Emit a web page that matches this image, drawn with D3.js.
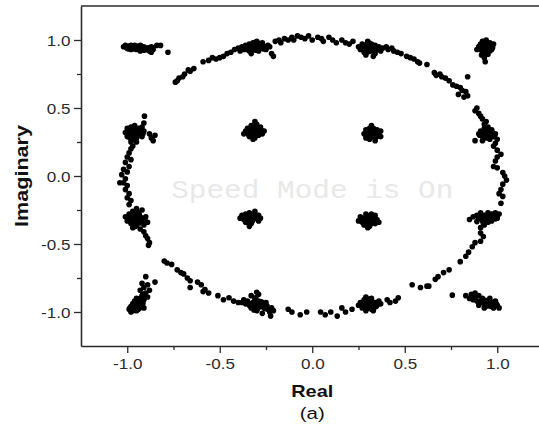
<!DOCTYPE html>
<html>
<head>
<meta charset="utf-8">
<script src="https://cdn.jsdelivr.net/npm/d3@7"></script>
<style>
  body { margin: 0; background: #fff; }
  svg { display: block; }
</style>
</head>
<body>
<div id="chart"></div>
<script>
// Tick values
var majorTicks = [-1.0, -0.5, 0.0, 0.5, 1.0];
var minorTicks = [-0.75, -0.25, 0.25, 0.75];

// Constellation points [real, imaginary], grouped by region
var clusterTL = [[-1.02,0.95],[-1.01,0.96],[-1.00,0.94],[-0.99,0.95],[-0.98,0.93],[-0.98,0.96],[-0.97,0.95],[-0.96,0.94],
  [-0.96,0.96],[-0.95,0.93],[-0.95,0.95],[-0.94,0.94],[-0.93,0.96],[-0.93,0.92],[-0.92,0.94],[-0.91,0.95],[-0.90,0.93],
  [-0.89,0.94],[-0.88,0.92],[-0.87,0.95],[-0.86,0.93],[-0.87,0.91],[-0.84,0.96],[-0.82,0.96],[-0.78,0.91],[-0.985,0.94],
  [-0.94,0.955],[-0.91,0.925],
  [-1.005,0.945],[-0.995,0.935],[-0.99,0.955],[-0.975,0.945],[-0.965,0.935],[-0.965,0.955],[-0.955,0.945],[-0.945,0.935],
  [-0.935,0.945],[-0.925,0.955],[-0.925,0.935],[-0.915,0.945],[-0.905,0.94],[-0.895,0.93],[-0.885,0.94],[-0.875,0.93],
  [-0.865,0.945]];

var ringTopLeft = [[-0.44,0.91],[-0.46,0.90],[-0.48,0.88],[-0.50,0.87],[-0.52,0.86],[-0.54,0.87],[-0.56,0.85],[-0.59,0.84],
  [-0.64,0.79],[-0.66,0.77],[-0.67,0.78],[-0.69,0.75],[-0.70,0.73],[-0.72,0.72],[-0.73,0.70],[-0.74,0.69]];

var clusterTopA = [[-0.42,0.93],[-0.40,0.94],[-0.39,0.92],[-0.38,0.95],[-0.37,0.93],[-0.36,0.96],[-0.35,0.94],[-0.34,0.97],
  [-0.34,0.92],[-0.33,0.95],[-0.32,0.98],[-0.32,0.93],[-0.31,0.96],[-0.30,0.94],[-0.30,0.99],[-0.29,0.92],[-0.28,0.96],
  [-0.27,0.94],[-0.27,0.98],[-0.26,0.95],[-0.25,0.93],[-0.24,0.96],[-0.23,0.95],[-0.22,0.90],[-0.21,0.88],[-0.33,0.90],
  [-0.29,0.975],[-0.355,0.95],
  [-0.375,0.94],[-0.365,0.95],[-0.355,0.93],[-0.345,0.955],[-0.335,0.94],[-0.325,0.965],[-0.315,0.945],[-0.305,0.925],
  [-0.295,0.955],[-0.285,0.94],[-0.275,0.96],[-0.265,0.935],[-0.315,0.98],[-0.345,0.935]];

var ringTop = [[-0.20,0.99],[-0.18,1.00],[-0.17,0.98],[-0.15,1.01],[-0.13,1.00],[-0.11,1.02],[-0.10,1.00],[-0.08,1.03],
  [-0.06,1.02],[-0.04,1.01],[-0.02,1.03],[0.00,1.00],[0.03,1.02],[0.05,1.01],[0.06,0.99],[0.09,1.02],[0.11,1.00],
  [0.13,0.98],[0.16,1.00],[0.18,0.98],[0.20,0.97],[0.22,0.99]];

var clusterTopB = [[0.25,0.95],[0.26,0.93],[0.27,0.97],[0.28,0.94],[0.28,0.91],[0.29,0.96],[0.30,0.93],[0.30,0.99],
  [0.31,0.95],[0.32,0.92],[0.32,0.97],[0.33,0.94],[0.34,0.96],[0.34,0.90],[0.35,0.93],[0.36,0.95],[0.37,0.92],
  [0.38,0.94],[0.29,0.89],[0.33,0.88],[0.31,0.975],[0.27,0.95],
  [0.275,0.94],[0.285,0.955],[0.295,0.935],[0.305,0.95],[0.305,0.915],[0.315,0.965],[0.325,0.945],[0.335,0.925],
  [0.345,0.945],[0.355,0.94],[0.295,0.97],[0.315,0.93]];

var ringTopRight = [[0.40,0.95],[0.41,0.93],[0.43,0.94],[0.44,0.92],[0.46,0.91],[0.48,0.90],[0.51,0.88],[0.53,0.87],
  [0.55,0.86],[0.57,0.84],[0.58,0.83],[0.62,0.82],[0.66,0.76],[0.67,0.74],[0.69,0.75],[0.70,0.73],[0.72,0.72],
  [0.74,0.70],[0.76,0.67],[0.78,0.66],[0.80,0.65],[0.81,0.63],[0.79,0.60],[0.83,0.62],[0.84,0.59],[0.82,0.58],[0.84,0.73]];

var clusterTR = [[0.90,0.95],[0.91,0.97],[0.91,0.93],[0.92,0.99],[0.92,0.95],[0.93,0.91],[0.93,0.97],[0.94,0.94],
  [0.94,1.00],[0.95,0.96],[0.95,0.92],[0.96,0.98],[0.96,0.94],[0.97,0.96],[0.97,0.93],[0.98,0.97],[0.915,0.89],
  [0.93,0.87],[0.935,0.84],[0.95,0.895],[0.89,0.93],
  [0.905,0.955],[0.915,0.94],[0.925,0.965],[0.925,0.925],[0.935,0.95],[0.945,0.975],[0.945,0.93],[0.955,0.945],
  [0.965,0.96],[0.96,0.92],[0.935,0.99],[0.975,0.945],[0.92,0.905],[0.94,0.905]];

var clusterRightA = [[0.88,0.48],[0.89,0.50],[0.90,0.46],[0.91,0.44],[0.92,0.42],[0.94,0.40],[0.93,0.38],
  [0.90,0.31],[0.91,0.33],[0.92,0.29],[0.93,0.35],[0.93,0.31],[0.94,0.33],[0.94,0.28],[0.95,0.30],[0.95,0.36],
  [0.96,0.32],[0.96,0.27],[0.97,0.30],[0.97,0.34],[0.98,0.29],[0.99,0.31],[1.00,0.27],[0.88,0.26],[0.92,0.26],[0.99,0.24],
  [0.905,0.30],[0.915,0.31],[0.925,0.32],[0.935,0.30],[0.945,0.315],[0.955,0.325],[0.955,0.29],[0.965,0.305],
  [0.975,0.32],[0.985,0.30],[0.935,0.34],[0.945,0.285]];

var ringRight = [[0.98,0.22],[1.00,0.19],[1.00,0.14],[1.02,0.16],[0.99,0.11],[0.98,0.07],[1.00,0.06],[1.03,0.025],
  [1.04,0.0],[1.05,-0.03],[1.03,-0.06],[1.02,-0.10],[1.01,-0.13],[1.03,-0.15],[1.02,-0.20]];

var clusterRightB = [[0.87,-0.30],[0.89,-0.29],[0.90,-0.31],[0.91,-0.27],[0.92,-0.33],[0.93,-0.29],[0.94,-0.31],
  [0.95,-0.27],[0.95,-0.34],[0.96,-0.30],[0.97,-0.28],[0.97,-0.33],[0.98,-0.30],[0.99,-0.27],[1.00,-0.31],
  [1.01,-0.28],[0.93,-0.36],[0.91,-0.38],[0.85,-0.32],[0.89,-0.335],
  [0.905,-0.295],[0.915,-0.315],[0.925,-0.30],[0.935,-0.32],[0.945,-0.295],[0.955,-0.31],[0.965,-0.29],[0.965,-0.32],
  [0.975,-0.305],[0.985,-0.29],[0.99,-0.315],[0.945,-0.335],[0.925,-0.345]];

var ringBottomRight = [[0.91,-0.42],[0.925,-0.445],[0.91,-0.48],[0.88,-0.49],[0.865,-0.52],[0.845,-0.56],[0.83,-0.59],
  [0.80,-0.63],[0.74,-0.69],[0.71,-0.71],[0.68,-0.74],[0.665,-0.76],[0.63,-0.81],[0.62,-0.81],[0.585,-0.82],
  [0.54,-0.80],[0.465,-0.895],[0.45,-0.92],[0.42,-0.93],[0.405,-0.91],[0.757,-0.876]];

var clusterBR = [[0.83,-0.88],[0.85,-0.90],[0.86,-0.87],[0.87,-0.91],[0.88,-0.89],[0.89,-0.92],[0.90,-0.88],[0.91,-0.93],
  [0.92,-0.90],[0.93,-0.94],[0.94,-0.92],[0.95,-0.95],[0.96,-0.93],[0.97,-0.96],[0.98,-0.94],[0.99,-0.92],[1.00,-0.95],
  [1.01,-0.97],[0.96,-0.90],[0.93,-0.97],[0.90,-0.95],[0.98,-0.97],[0.88,-0.86],
  [0.915,-0.915],[0.925,-0.925],[0.935,-0.915],[0.945,-0.935],[0.955,-0.925],[0.965,-0.945],[0.975,-0.935],
  [0.985,-0.955],[0.995,-0.94],[0.955,-0.955],[0.94,-0.955],[0.985,-0.925]];

var clusterBottomB = [[0.25,-0.95],[0.26,-0.93],[0.27,-0.97],[0.28,-0.94],[0.28,-0.91],[0.29,-0.99],[0.30,-0.95],
  [0.30,-0.92],[0.31,-0.97],[0.32,-0.94],[0.32,-0.90],[0.33,-0.96],[0.34,-0.93],[0.35,-0.95],[0.36,-0.92],
  [0.37,-0.94],[0.29,-0.89],[0.33,-0.99],[0.31,-0.935],
  [0.265,-0.945],[0.275,-0.93],[0.285,-0.955],[0.295,-0.94],[0.305,-0.965],[0.315,-0.95],[0.325,-0.925],
  [0.335,-0.945],[0.345,-0.96],[0.355,-0.94],[0.305,-0.905],[0.32,-0.98]];

var ringBottom = [[-0.225,-1.03],[-0.21,-0.99],[-0.13,-0.98],[-0.11,-1.0],[-0.065,-1.02],[-0.03,-1.0],[0.045,-1.0],
  [0.07,-1.02],[0.10,-1.0],[0.135,-1.03],[0.16,-0.97],[0.18,-1.0],[0.215,-0.98]];

var clusterBottomA = [[-0.38,-0.93],[-0.37,-0.91],[-0.36,-0.94],[-0.35,-0.92],[-0.34,-0.95],[-0.33,-0.97],[-0.32,-0.93],
  [-0.31,-0.90],[-0.31,-0.96],[-0.30,-0.94],[-0.30,-0.99],[-0.29,-0.92],[-0.29,-0.87],[-0.28,-0.96],[-0.27,-0.94],
  [-0.27,-1.01],[-0.26,-0.97],[-0.25,-0.93],[-0.24,-0.98],[-0.23,-1.00],[-0.30,-0.855],[-0.33,-0.88],[-0.22,-0.97],
  [-0.355,-0.93],[-0.345,-0.935],[-0.335,-0.955],[-0.325,-0.945],[-0.315,-0.925],[-0.305,-0.955],[-0.295,-0.975],
  [-0.295,-0.935],[-0.285,-0.945],[-0.275,-0.925],[-0.265,-0.955],[-0.255,-0.975],[-0.245,-0.955],[-0.315,-0.985],
  [-0.305,-0.895]];

var ringBottomLeft = [[-0.62,-0.78],[-0.60,-0.80],[-0.58,-0.835],[-0.56,-0.86],[-0.51,-0.88],[-0.48,-0.91],[-0.45,-0.895],
  [-0.425,-0.92],[-0.40,-0.93],[-0.80,-0.625],[-0.785,-0.64],[-0.76,-0.65],[-0.73,-0.69],[-0.71,-0.71],[-0.695,-0.72],
  [-0.675,-0.75],[-0.66,-0.77],[-0.66,-0.82],[-0.59,-0.85]];

var clusterBL = [[-0.99,-0.98],[-0.98,-0.96],[-0.97,-0.99],[-0.97,-0.94],[-0.96,-0.97],[-0.96,-0.92],[-0.95,-0.95],
  [-0.95,-0.99],[-0.94,-0.93],[-0.94,-0.97],[-0.93,-0.90],[-0.93,-0.96],[-0.92,-0.94],[-0.92,-0.88],[-0.91,-0.91],
  [-0.91,-0.97],[-0.90,-0.86],[-0.89,-0.89],[-0.93,-0.84],[-0.91,-0.82],[-0.89,-0.80],[-0.88,-0.84],[-0.92,-0.79],
  [-0.90,-0.74],[-0.85,-0.78],[-0.95,-0.90],[-0.98,-1.0],
  [-0.985,-0.97],[-0.975,-0.955],[-0.965,-0.98],[-0.955,-0.965],[-0.955,-0.935],[-0.945,-0.985],[-0.945,-0.95],
  [-0.935,-0.975],[-0.935,-0.925],[-0.925,-0.955],[-0.925,-0.905],[-0.915,-0.935],[-0.905,-0.89],[-0.915,-0.87],
  [-0.965,-0.935]];

var clusterLeftB = [[-1.01,-0.30],[-1.00,-0.33],[-0.99,-0.28],[-0.98,-0.35],[-0.98,-0.31],[-0.97,-0.26],[-0.97,-0.38],
  [-0.96,-0.33],[-0.96,-0.29],[-0.95,-0.36],[-0.95,-0.31],[-0.94,-0.27],[-0.94,-0.34],[-0.93,-0.30],[-0.93,-0.39],
  [-0.92,-0.32],[-0.92,-0.25],[-0.91,-0.36],[-0.90,-0.30],[-0.89,-0.34],[-0.91,-0.41],[-0.95,-0.24],
  [-0.90,-0.44],[-0.89,-0.46],[-0.88,-0.49],[-0.885,-0.51],
  [-0.995,-0.31],[-0.985,-0.325],[-0.975,-0.295],[-0.965,-0.315],[-0.965,-0.345],[-0.955,-0.285],[-0.945,-0.32],
  [-0.935,-0.345],[-0.935,-0.285],[-0.925,-0.31],[-0.915,-0.33],[-0.905,-0.32],[-0.955,-0.37]];

var ringLeft = [[-0.97,0.22],[-0.98,0.20],[-0.99,0.17],[-1.00,0.14],[-0.98,0.12],[-1.01,0.10],[-0.99,0.07],[-1.02,0.05],
  [-1.00,0.03],[-1.03,0.01],[-1.01,-0.02],[-1.02,-0.05],[-1.00,-0.07],[-1.01,-0.10],[-0.99,-0.13],[-1.00,-0.16],
  [-0.98,-0.18],[-0.99,-0.21],[-1.04,-0.05]];

var clusterLeftA = [[-1.01,0.32],[-1.00,0.35],[-1.00,0.29],[-0.99,0.33],[-0.98,0.36],[-0.98,0.30],[-0.97,0.27],
  [-0.97,0.34],[-0.96,0.31],[-0.96,0.37],[-0.95,0.33],[-0.95,0.28],[-0.94,0.35],[-0.94,0.30],[-0.93,0.32],
  [-0.92,0.36],[-0.92,0.29],[-0.91,0.33],[-0.91,0.39],[-0.907,0.44],[-0.88,0.31],[-0.87,0.28],[-0.85,0.30],
  [-0.86,0.26],[-0.98,0.25],[-0.95,0.25],
  [-0.995,0.31],[-0.985,0.34],[-0.975,0.32],[-0.965,0.295],[-0.965,0.345],[-0.955,0.32],[-0.945,0.34],[-0.945,0.29],
  [-0.935,0.315],[-0.925,0.335],[-0.915,0.31],[-0.985,0.28]];

var innerA = [[-0.36,0.33],[-0.35,0.31],[-0.35,0.35],[-0.34,0.29],[-0.33,0.33],[-0.33,0.37],[-0.32,0.31],[-0.31,0.35],
  [-0.31,0.28],[-0.30,0.38],[-0.30,0.33],[-0.29,0.30],[-0.28,0.34],[-0.28,0.36],[-0.27,0.31],[-0.26,0.33],
  [-0.31,0.40],[-0.37,0.31],[-0.32,0.27],
  [-0.345,0.32],[-0.335,0.345],[-0.325,0.32],[-0.315,0.335],[-0.305,0.31],[-0.295,0.345],[-0.285,0.32],
  [-0.325,0.295],[-0.305,0.36],[-0.275,0.335]];

var innerB = [[0.28,0.31],[0.29,0.34],[0.29,0.28],[0.30,0.31],[0.31,0.35],[0.31,0.27],[0.32,0.32],[0.33,0.29],
  [0.33,0.35],[0.34,0.32],[0.35,0.29],[0.35,0.34],[0.36,0.31],[0.37,0.33],[0.37,0.29],[0.32,0.37],[0.34,0.26],[0.30,0.33],
  [0.295,0.32],[0.305,0.295],[0.315,0.325],[0.325,0.305],[0.335,0.335],[0.345,0.31],[0.355,0.32],[0.325,0.345],
  [0.315,0.29],[0.36,0.295]];

var innerC = [[-0.39,-0.31],[-0.38,-0.29],[-0.37,-0.32],[-0.36,-0.28],[-0.35,-0.31],[-0.35,-0.34],[-0.34,-0.27],
  [-0.33,-0.30],[-0.33,-0.35],[-0.32,-0.32],[-0.31,-0.28],[-0.30,-0.31],[-0.29,-0.29],[-0.29,-0.33],[-0.28,-0.31],
  [-0.34,-0.37],[-0.36,-0.34],[-0.31,-0.26],
  [-0.375,-0.305],[-0.365,-0.315],[-0.355,-0.295],[-0.345,-0.32],[-0.335,-0.31],[-0.325,-0.295],[-0.315,-0.315],
  [-0.305,-0.295],[-0.345,-0.345],[-0.325,-0.335]];

var innerD = [[0.25,-0.33],[0.26,-0.30],[0.27,-0.34],[0.28,-0.31],[0.28,-0.36],[0.29,-0.28],[0.30,-0.33],[0.30,-0.38],
  [0.31,-0.30],[0.32,-0.35],[0.32,-0.28],[0.33,-0.32],[0.34,-0.35],[0.34,-0.29],[0.35,-0.32],[0.31,-0.37],
  [0.29,-0.35],[0.36,-0.34],
  [0.265,-0.32],[0.275,-0.325],[0.285,-0.335],[0.295,-0.31],[0.305,-0.345],[0.315,-0.32],[0.325,-0.335],
  [0.335,-0.31],[0.345,-0.33],[0.295,-0.365],[0.315,-0.29]];

var allPoints = [].concat(clusterTL, ringTopLeft, clusterTopA, ringTop, clusterTopB, ringTopRight, clusterTR,
  clusterRightA, ringRight, clusterRightB, ringBottomRight, clusterBR, clusterBottomB, ringBottom, clusterBottomA,
  ringBottomLeft, clusterBL, clusterLeftB, ringLeft, clusterLeftA, innerA, innerB, innerC, innerD);

// Drawing area
var W = 539, H = 434;
var plot = {left: 81, right: 543.5, top: 6, bottom: 346};
var stretch = 1.22; // the reference text is a little wide

var svg = d3.select("#chart").append("svg")
  .attr("width", W)
  .attr("height", H)
  .style("background", "#fff");

var x = d3.scaleLinear().domain([-1.25, 1.25]).range([plot.left, plot.right]);
var y = d3.scaleLinear().domain([-1.25, 1.25]).range([plot.bottom, plot.top]);

var axisColor = "#2b2b2b";

// Watermark behind the points
svg.append("g")
  .attr("transform", "translate(" + x(0) + ",198) scale(1.13,1)")
  .append("text")
  .attr("text-anchor", "middle")
  .style("font-family", "'Liberation Mono', 'Courier New', monospace")
  .style("font-size", "26px")
  .style("fill", "#e8e8e8")
  .text("Speed Mode is On");

// Top frame line
svg.append("line")
  .attr("x1", plot.left).attr("x2", plot.right)
  .attr("y1", plot.top).attr("y2", plot.top)
  .style("stroke", axisColor)
  .style("stroke-width", 1.6);

// Minor ticks
svg.append("g")
  .attr("class", "x-minor")
  .attr("transform", "translate(0," + plot.bottom + ")")
  .call(d3.axisBottom(x).tickValues(minorTicks).tickSize(4).tickFormat(""));

svg.append("g")
  .attr("class", "y-minor")
  .attr("transform", "translate(" + plot.left + ",0)")
  .call(d3.axisLeft(y).tickValues(minorTicks).tickSize(4).tickFormat(""));

// Major axes
var xAxis = svg.append("g")
  .attr("class", "x-axis")
  .attr("transform", "translate(0," + plot.bottom + ")")
  .call(d3.axisBottom(x).tickValues(majorTicks).tickSize(7).tickSizeOuter(0).tickFormat(d3.format(".1f")));

var yAxis = svg.append("g")
  .attr("class", "y-axis")
  .attr("transform", "translate(" + plot.left + ",0)")
  .call(d3.axisLeft(y).tickValues(majorTicks).tickSize(7).tickSizeOuter(0).tickFormat(d3.format(".1f")));

svg.selectAll(".x-minor .domain, .y-minor .domain").remove();
svg.selectAll(".domain").style("stroke", axisColor).style("stroke-width", 1.6);
svg.selectAll(".tick line").style("stroke", axisColor).style("stroke-width", 1.3);

xAxis.selectAll("text")
  .attr("y", 13.5)
  .attr("dy", "0.71em")
  .attr("transform", "scale(" + stretch + ",1)")
  .style("font-family", "Arial, 'Liberation Sans', sans-serif")
  .style("font-size", "14px")
  .style("fill", axisColor)
  .text(function(d) { return d3.format(".1f")(d).replace("−", "-"); });

yAxis.selectAll("text")
  .attr("x", -10.5 / stretch)
  .attr("dy", "0.36em")
  .attr("transform", "scale(" + stretch + ",1)")
  .style("font-family", "Arial, 'Liberation Sans', sans-serif")
  .style("font-size", "14px")
  .style("fill", axisColor)
  .text(function(d) { return d3.format(".1f")(d).replace("−", "-"); });

// Axis titles
svg.append("g")
  .attr("transform", "translate(" + x(0) + ",397) scale(1.17,1)")
  .append("text")
  .attr("text-anchor", "middle")
  .style("font-family", "Arial, 'Liberation Sans', sans-serif")
  .style("font-weight", "bold")
  .style("font-size", "17px")
  .style("fill", "#111")
  .text("Real");

svg.append("g")
  .attr("transform", "translate(28," + y(0) + ") rotate(-90) scale(1.2,1)")
  .append("text")
  .attr("text-anchor", "middle")
  .style("font-family", "Arial, 'Liberation Sans', sans-serif")
  .style("font-weight", "bold")
  .style("font-size", "18px")
  .style("fill", "#111")
  .text("Imaginary");

svg.append("g")
  .attr("transform", "translate(" + x(0) + ",419) scale(1.2,1)")
  .append("text")
  .attr("text-anchor", "middle")
  .style("font-family", "Arial, 'Liberation Sans', sans-serif")
  .style("font-size", "17px")
  .style("fill", "#111")
  .text("(a)");

// Points
var marker = d3.symbol().type(d3.symbolCircle).size(25);

svg.append("g")
  .attr("class", "points")
  .selectAll("path")
  .data(allPoints)
  .enter().append("path")
  .attr("d", marker)
  .attr("transform", function(d) {
    return "translate(" + x(d[0]) + "," + y(d[1]) + ")";
  })
  .style("fill", "#000");
</script>
</body>
</html>
